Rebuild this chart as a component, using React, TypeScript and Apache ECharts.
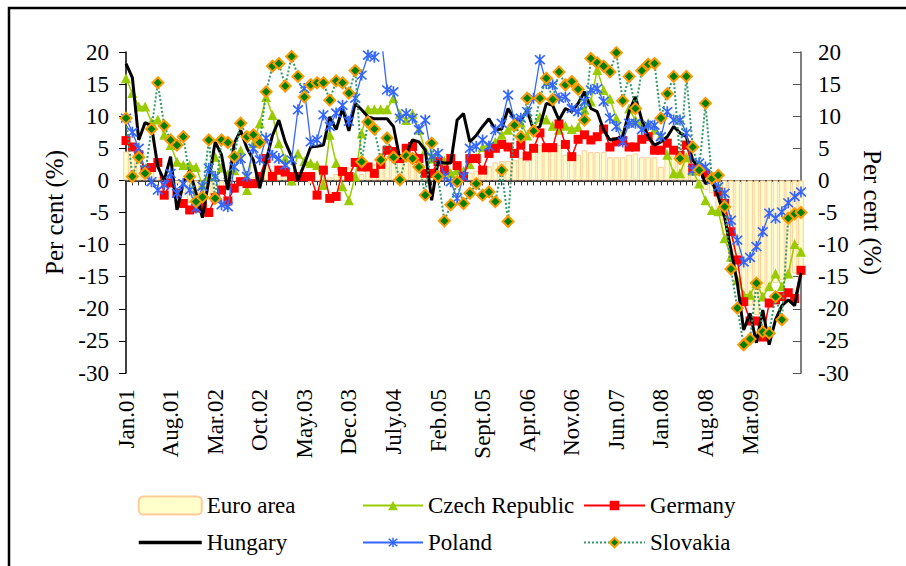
import React, { useEffect, useRef } from 'react';
import * as echarts from 'echarts';

const MONTH_NAMES = ['Jan', 'Feb', 'Mar', 'Apr', 'May', 'Jun', 'July', 'Aug', 'Sept', 'Oct', 'Nov', 'Dec'];
const START_YEAR = 2001;
const N_MONTHS = 107;
const categories: string[] = Array.from({ length: N_MONTHS }, (_, i) =>
  `${MONTH_NAMES[i % 12]}.${String((START_YEAR + Math.floor(i / 12)) % 100).padStart(2, '0')}`
);
const tickLabels = ['Jan.01', 'Aug.01', 'Mar.02', 'Oct.02', 'May.03', 'Dec.03', 'July.04', 'Feb.05',
  'Sept.05', 'Apr.06', 'Nov.06', 'Jun.07', 'Jan.08', 'Aug.08', 'Mar.09'];

const yTicks = { min: -30, max: 20, interval: 5 };

const euroArea = [
  4.5, 4.0, 3.5, 2.0, 1.5, 0.5, 0.0, 0.5, -0.5, -2.0, -3.5, -4.0,
  -3.5, -3.0, -2.5, -1.5, -0.5, 0.0, 0.0, 0.5, 0.5, 1.0, 2.0, 1.5,
  1.0, 1.5, 0.5, 0.5, 0.0, -0.5, 0.0, -0.5, 0.5, 1.0, 1.5, 2.0,
  1.0, 1.0, 1.5, 2.5, 3.5, 3.5, 3.3, 3.0, 3.5, 2.8, 2.5, 1.5,
  1.0, 0.5, 0.5, 0.5, 1.0, 1.0, 1.2, 1.5, 2.0, 2.2, 2.8, 3.0,
  3.0, 3.2, 3.5, 3.0, 4.5, 5.5, 5.5, 5.8, 5.5, 4.0, 3.8, 4.0,
  4.7, 4.4, 4.4, 4.4, 3.6, 3.6, 3.6, 4.0, 4.2, 3.6, 3.6, 3.6,
  2.1, 3.9, 3.9, 3.0, 3.0, 2.0, -1.0, -1.5, -2.0, -5.5, -8.5, -12.5,
  -16.0, -18.5, -19.5, -21.0, -18.5, -17.0, -16.0, -15.5, -15.0, -14.5, -15.0,
];

const czechRepublic = [
  15.9, 13.6, 11.5, 11.5, 9.1, 9.5, 7.1, 5.5, 2.9, 2.4,
  2.4, 2.1, -0.7, 0.6, 3.7, 2.0, 1.0, 1.6, 4.7, -1.5,
  5.8, 8.9, 13.0, 10.2, 5.8, 3.4, 0.0, 4.2, 3.0, 2.7,
  2.4, -0.7, 7.1, 2.7, -0.9, -3.1, 0.6, 7.3, 11.1, 11.1,
  11.1, 11.1, 12.8, 10.4, 9.4, 10.4, 7.9, 4.7, 3.4, 3.4,
  3.1, 1.1, 1.6, 1.5, 2.5, 3.5, 5.2, 5.5, 6.0, 7.1,
  7.9, 8.5, 9.0, 7.0, 8.0, 9.9, 9.5, 8.5, 7.9, 8.5,
  8.0, 8.3, 11.0, 12.3, 17.2, 14.1, 12.7, 9.7, 6.8, 11.2,
  9.4, 8.9, 8.9, 7.9, 7.0, 4.0, 1.1, 1.1, 3.6, 1.5,
  -0.5, -3.1, -4.6, -4.8, -9.0, -11.9, -15.5, -17.8, -17.8, -16.0,
  -18.1, -16.5, -14.5, -16.5, -14.5, -9.9, -11.1,
];

const germany = [
  6.2, 5.2, 4.0, 1.6, 2.0, 2.8, -2.3, -0.4, -2.0, -3.6,
  -4.6, -4.3, -4.0, -5.0, -2.7, -1.5, -3.2, -1.2, -0.2, -0.5,
  -0.5, 0.6, 3.4, 0.6, 1.6, 1.3, 0.6, 0.6, 0.6, 0.6,
  -2.3, 1.6, -2.8, -2.5, 1.4, 0.6, 2.8, 2.1, 2.1, 1.1,
  2.5, 4.7, 4.5, 3.4, 5.0, 5.3, 3.4, 1.1, 1.1, 2.9,
  1.6, 3.4, 2.3, 0.6, 3.4, 3.4, 1.6, 4.2, 5.0, 5.6,
  5.2, 4.2, 5.5, 3.8, 5.0, 7.4, 5.1, 5.1, 8.8, 5.6,
  3.7, 6.4, 7.1, 6.3, 6.8, 8.0, 5.2, 6.0, 6.2, 5.2,
  5.2, 6.4, 6.8, 4.7, 4.7, 5.8, 4.7, 3.9, 5.5, 1.9,
  1.9, 1.0, 0.5, -1.8, -3.6, -8.0, -12.4, -18.9, -21.9, -21.9,
  -24.4, -19.1, -18.6, -18.1, -17.5, -18.4, -14.0,
];

const hungary = [
  18.2, 16.0, 6.3, 9.0, 8.5, 2.1, 0.0, 3.7, -4.6, -0.5,
  1.6, -2.0, -5.8, 0.0, 6.0, 4.0, -1.5, 5.8, 7.8, 5.0,
  3.2, -1.2, 3.0, 7.0, 9.4, 6.0, 3.7, 0.0, 2.5, 5.2,
  5.3, 5.5, 9.9, 7.9, 11.2, 7.7, 12.0, 11.0, 9.9, 9.6,
  9.6, 9.6, 8.4, 3.4, 4.2, 6.3, 6.0, 4.7, -3.1, 2.9,
  2.7, 2.7, 9.4, 10.4, 6.0, 7.0, 8.4, 9.6, 7.9, 8.0,
  11.2, 9.5, 9.4, 10.9, 7.9, 8.4, 12.0, 11.7, 9.4, 11.2,
  10.7, 12.0, 13.8, 11.2, 10.7, 7.9, 6.3, 6.5, 6.8, 10.7,
  13.0, 9.4, 6.8, 5.5, 6.0, 6.8, 8.4, 7.4, 6.8, 3.1,
  2.1, -0.5, -0.1, -2.5, -5.7, -10.8, -16.0, -23.3, -20.7, -25.3,
  -20.2, -25.6, -21.7, -19.5, -18.6, -19.5, -14.4,
];

const poland = [
  9.7, 7.5, 5.0, 1.6, -0.2, -1.5, -0.7, 1.1, -2.0, -0.5,
  -1.5, -4.3, -0.9, 1.9, 0.6, -3.8, -4.1, 2.1, 3.4, 0.6,
  5.0, 3.2, 6.6, 3.9, 3.4, 2.4, 3.2, 11.0, 14.3, 6.0,
  6.3, 10.2, 8.4, 10.5, 11.7, 9.2, 12.8, 16.4, 19.5, 19.2,
  23.0, 14.1, 13.8, 9.7, 10.4, 9.7, 7.9, 9.4, 3.7, 4.2,
  0.6, -0.2, -2.8, 0.6, 5.0, 5.3, 6.3, 5.3, 7.9, 8.9,
  13.3, 9.4, 9.7, 10.7, 12.8, 18.8, 15.1, 14.9, 12.8, 13.0,
  11.2, 10.7, 12.3, 14.1, 14.3, 12.3, 9.7, 8.4, 6.0, 8.9,
  8.9, 7.9, 8.6, 8.6, 6.8, 10.7, 9.4, 9.4, 7.4, 1.6,
  2.7, 2.1, 0.1, -1.0, -2.0, -6.2, -9.3, -12.7, -12.0, -10.3,
  -8.0, -5.1, -5.9, -4.9, -3.5, -2.5, -1.8,
];

const slovakia = [
  9.7, 0.6, 3.6, 1.1, 8.0, 15.2, 8.5, 6.3, 5.5, 6.8,
  0.6, -3.3, -2.6, 6.3, -2.8, 6.3, 5.9, 3.7, 8.9, 6.8,
  7.1, 5.9, 13.8, 17.8, 18.2, 14.7, 19.3, 16.2, 13.0, 14.9,
  15.2, 15.2, 12.5, 15.5, 15.2, 13.6, 17.1, 2.9, 9.1, 8.0,
  3.2, 6.6, 3.6, 0.1, 3.8, 3.4, 2.1, -2.3, 5.8, 0.6,
  -6.3, -3.8, -0.2, -3.6, -2.0, -0.5, -2.3, -1.8, -3.3, 1.6,
  -6.4, 8.6, 6.8, 12.8, 7.7, 12.8, 15.9, 12.6, 16.9, 14.9,
  15.4, 14.2, 9.4, 19.0, 18.3, 17.8, 16.9, 19.9, 12.4, 16.2,
  11.2, 17.1, 18.1, 18.2, 9.7, 13.5, 16.2, 3.4, 16.2, 5.2,
  1.6, 12.0, 0.3, 0.8, -4.1, -13.8, -19.9, -25.6, -24.7, -16.0,
  -23.6, -23.8, -18.1, -21.7, -5.9, -5.2, -5.0,
];

const ASTERISK =
  'path://M8.6 0H11.4V20H8.6Z M1 3L3 1L19 17L17 19Z M17 1L19 3L3 19L1 17Z';

const FONT = "'Liberation Serif', 'DejaVu Serif', serif";

export default function App() {
  const ref = useRef<HTMLDivElement>(null);

  useEffect(() => {
    if (!ref.current) return;
    const chart = echarts.init(ref.current, null, { renderer: 'svg' });
    const txt = { color: '#000', fontFamily: FONT, fontSize: 23 };
    const titleTxt = { color: '#000', fontFamily: FONT, fontSize: 25 };
    const legendText = { color: '#000', fontFamily: FONT, fontSize: 23 };
    const legendCommon = {
      orient: 'vertical',
      top: 494,
      itemGap: 14,
      padding: 0,
      textStyle: legendText,
      selectedMode: false,
    };

    chart.setOption({
      animation: false,
      backgroundColor: '#ffffff',
      textStyle: { fontFamily: FONT },
      grid: { left: 126, right: 105, top: 52, bottom: 193, containLabel: false },
      xAxis: [
        {
          type: 'category',
          data: categories,
          boundaryGap: false,
          position: 'bottom',
          axisLine: { show: true, onZero: true, lineStyle: { color: '#000', width: 1.5 } },
          axisTick: { show: true, interval: 0, length: 5, lineStyle: { color: '#333', width: 1 } },
          axisLabel: { show: false },
          splitLine: { show: false },
        },
        {
          type: 'category',
          data: categories,
          boundaryGap: false,
          position: 'bottom',
          axisLine: { show: false, onZero: false },
          axisTick: { show: false },
          axisLabel: {
            show: true,
            interval: (idx: number, value: string) => tickLabels.indexOf(value) >= 0,
            rotate: 90,
            margin: 16,
            ...txt,
          },
          splitLine: { show: false },
        },
      ],
      yAxis: [
        {
          type: 'value',
          ...yTicks,
          position: 'left',
          name: 'Per cent (%)',
          nameLocation: 'middle',
          nameGap: 58,
          nameRotate: 90,
          nameTextStyle: { ...titleTxt },
          axisLine: { show: true, onZero: false, lineStyle: { color: '#000', width: 1.5 } },
          axisTick: { show: true, length: 7, lineStyle: { color: '#000' } },
          axisLabel: { ...txt, margin: 17 },
          splitLine: { show: false },
        },
        {
          type: 'value',
          ...yTicks,
          position: 'right',
          name: 'Per cent (%)',
          nameLocation: 'middle',
          nameGap: 56,
          nameRotate: -90,
          nameTextStyle: { ...titleTxt },
          axisLine: { show: true, onZero: false, lineStyle: { color: '#555', width: 1.5 } },
          axisTick: { show: true, inside: true, length: 8, lineStyle: { color: '#555' } },
          axisLabel: { ...txt, margin: 17 },
          splitLine: { show: false },
        },
      ],
      legend: [
        {
          ...legendCommon,
          data: [
            'Euro area',
            {
              name: 'Hungary',
              itemStyle: { opacity: 0, borderWidth: 0 },
              lineStyle: { width: 3.5, color: '#000' },
            },
          ],
          left: 137,
          itemWidth: 63,
          itemHeight: 18,
        },
        {
          ...legendCommon,
          data: ['Czech Republic', 'Poland'],
          left: 362,
          itemWidth: 60,
          itemHeight: 12,
        },
        {
          ...legendCommon,
          data: ['Germany', 'Slovakia'],
          left: 583,
          itemWidth: 61,
          itemHeight: 12,
        },
      ],
      graphic: [
        {
          type: 'rect',
          silent: true,
          z: 100,
          shape: { x: 9, y: 8, width: 1400, height: 1400 },
          style: { fill: 'none', stroke: '#000', lineWidth: 2.5 },
        },
      ],
      series: [
        {
          name: 'Euro area',
          type: 'bar',
          data: euroArea,
          barCategoryGap: '12%',
          itemStyle: { color: '#FFFFCC', borderColor: '#FFCC99', borderWidth: 1 },
          z: 1,
        },
        {
          name: 'Czech Republic',
          type: 'line',
          data: czechRepublic,
          symbol: 'triangle',
          symbolSize: 10,
          showAllSymbol: true,
          itemStyle: { color: '#99CC00' },
          lineStyle: { color: '#99CC00', width: 1.5 },
          z: 2,
        },
        {
          name: 'Germany',
          type: 'line',
          data: germany,
          symbol: 'rect',
          symbolSize: 9,
          showAllSymbol: true,
          itemStyle: { color: '#FF0000' },
          lineStyle: { color: '#FF0000', width: 1.5 },
          z: 3,
        },
        {
          name: 'Hungary',
          type: 'line',
          data: hungary,
          symbol: 'none',
          itemStyle: { color: '#000' },
          lineStyle: { color: '#000', width: 3 },
          z: 4,
        },
        {
          name: 'Poland',
          type: 'line',
          data: poland,
          symbol: ASTERISK,
          symbolSize: 11,
          showAllSymbol: true,
          itemStyle: { color: '#3366FF' },
          lineStyle: { color: '#3366FF', width: 1.3 },
          z: 5,
        },
        {
          name: 'Slovakia',
          type: 'line',
          data: slovakia,
          symbol: 'diamond',
          symbolSize: 11,
          showAllSymbol: true,
          itemStyle: { color: '#008000', borderColor: '#FF9900', borderWidth: 2 },
          lineStyle: { color: '#339966', width: 2, type: 'dotted' },
          z: 6,
        },
      ],
    });

    return () => chart.dispose();
  }, []);

  return (
    <div
      ref={ref}
      style={{ position: 'fixed', left: 0, top: 0, width: 906, height: 566, background: '#fff' }}
    />
  );
}
